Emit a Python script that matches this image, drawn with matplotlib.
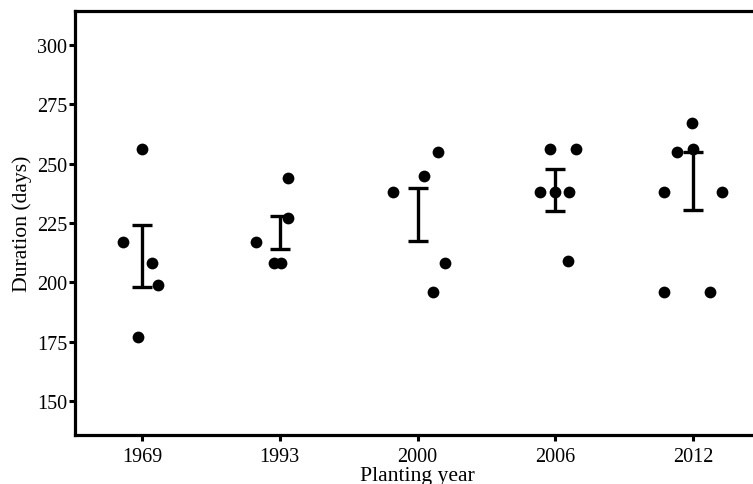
import matplotlib
matplotlib.use("Agg")
import matplotlib.pyplot as plt
import numpy as np

plt.rcParams['font.family'] = ['Liberation Serif', 'DejaVu Serif']

years = ['1969', '1993', '2000', '2006', '2012']

# durations (days) per planting year
dur_1969 = [217, 256, 208, 199, 177]
dur_1993 = [217, 208, 208, 227, 244]
dur_2000 = [238, 245, 255, 208, 196]
dur_2006 = [256, 256, 238, 238, 238, 209]
dur_2012 = [238, 255, 256, 267, 238, 196, 196]
durations = [dur_1969, dur_1993, dur_2000, dur_2006, dur_2012]

# horizontal jitter of each point (category units)
jit_1969 = [-0.14, 0.0, 0.07, 0.12, -0.03]
jit_1993 = [-0.17, -0.04, 0.01, 0.06, 0.06]
jit_2000 = [-0.18, 0.05, 0.15, 0.20, 0.11]
jit_2006 = [-0.04, 0.15, -0.11, 0.0, 0.10, 0.09]
jit_2012 = [-0.21, -0.12, 0.0, -0.01, 0.21, -0.21, 0.12]
jitter = [jit_1969, jit_1993, jit_2000, jit_2006, jit_2012]

# error bar limits (mean +/- se)
err_low = [198.0, 214.0, 217.4, 230.0, 230.5]
err_high = [224.1, 227.9, 239.7, 247.7, 254.9]

fig = plt.figure(figsize=(7.53, 4.85), dpi=100)
ax = fig.add_axes([75/753, 49/485, 685/753, 424/485])

for i, (d, j) in enumerate(zip(durations, jitter)):
    ax.scatter(i + np.array(j), d, s=72, color='black', zorder=3, linewidths=0)

x = np.arange(len(years))
lo = np.array(err_low)
hi = np.array(err_high)
mid = (lo + hi) / 2
ax.errorbar(x, mid, yerr=[mid - lo, hi - mid], fmt='none', ecolor='black',
            elinewidth=2.4, capsize=7.4, capthick=2.4, zorder=4)

ax.set_xlim(-0.486, 4.486)
ax.set_ylim(135.7, 314.3)
ax.set_xticks(x)
ax.set_xticklabels(years)
ax.set_yticks([150, 175, 200, 225, 250, 275, 300])

for s in ax.spines.values():
    s.set_linewidth(2.3)
ax.tick_params(axis='both', direction='out', length=4, width=2.2, labelsize=14.5,
               color='black', labelcolor='black')
ax.tick_params(axis='y', pad=1.5)
ax.tick_params(axis='x', pad=5)

ax.set_xlabel('Planting year', fontsize=15.6, labelpad=0)
ax.set_ylabel('Duration (days)', fontsize=15.6, labelpad=4)

fig.savefig('out.png', dpi=100)
